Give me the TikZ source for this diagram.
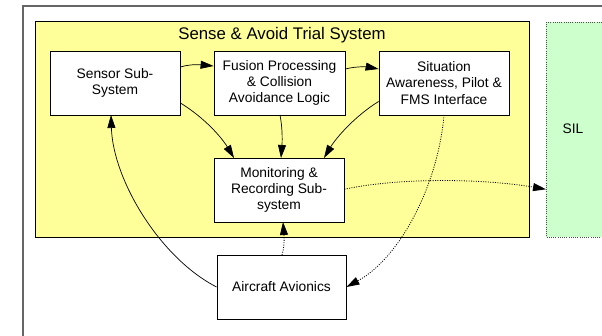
\documentclass[tikz,border=0pt]{standalone}
\usepackage{fontspec}
\setmainfont{Liberation Sans}
\usetikzlibrary{arrows.meta}
\definecolor{sysyellow}{HTML}{FFFF99}
\definecolor{silgreen}{HTML}{CCFFCC}
\begin{document}
\begin{tikzpicture}[x=1pt,y=-1pt,
  box/.style={draw, fill=white, line width=0.8pt, align=center,
    font=\fontsize{13.8}{16.3}\selectfont, inner sep=0pt},
  arr/.style={-{Triangle[length=13pt,width=8pt]}, line width=0.7pt},
  dotarr/.style={arr, line width=0.8pt, dash pattern=on 1pt off 1.4pt}]
\useasboundingbox (0,0) rectangle (602,336);
% outer frame
\draw[gray!80!black, line width=1.2pt] (23,340) -- (23,6) -- (610,6);
% system area
\draw[fill=sysyellow, line width=0.8pt] (35,21) rectangle (529,237);
\node[font=\fontsize{16.8}{19}\selectfont] (title) at (282,35) {Sense \& Avoid Trial System};
% SIL
\draw[fill=silgreen, dash pattern=on 1pt off 1.2pt, draw=gray!60!black, line width=0.8pt] (546,22) rectangle (612,237);
\node[font=\fontsize{13.8}{16.3}\selectfont] (sil) at (573,129) {SIL};
\coordinate (silin) at (546,189.3);
% boxes
\node[box, minimum width=130pt, minimum height=64pt] (sensor) at (115,83) {Sensor Sub-\\System};
\node[box, minimum width=131pt, minimum height=64pt] (fusion) at (279.5,83) {Fusion Processing\\\& Collision\\Avoidance Logic};
\node[box, minimum width=130pt, minimum height=64pt] (sa) at (444,83) {Situation\\Awareness, Pilot \&\\FMS Interface};
\node[box, minimum width=130pt, minimum height=64pt] (mon) at (279,190) {Monitoring \&\\Recording Sub-\\system};
\node[box, minimum width=129pt, minimum height=64pt] (av) at (281.5,287) {Aircraft Avionics};
% connectors
\draw[arr] (sensor.east |- 0,67) .. controls (192,63.5) and (203,65) .. (fusion.west |- 0,66);
\draw[arr] (fusion.east |- 0,69) .. controls (357,66) and (368,67) .. (sa.west |- 0,69);
\draw[arr] (sensor.east |- 0,103) .. controls (205,118) and (222,138) .. (234,158);
\draw[arr] (280,115) .. controls (283,130) and (282,145) .. (281,158);
\draw[arr] (sa.west |- 0,101.5) .. controls (355,116) and (336,138) .. (324,158);
\draw[arr] (av.west) .. controls (160,258) and (113,180) .. (111,115);
\draw[dotarr] (282,255) .. controls (285,245) and (284,235) .. (283,222);
\draw[dotarr] (mon.east |- 0,189.3) .. controls (395,178) and (480,178) .. (silin);
\draw[dotarr] (444,115) .. controls (438,185) and (400,258) .. (av.east);
\end{tikzpicture}
\end{document}
